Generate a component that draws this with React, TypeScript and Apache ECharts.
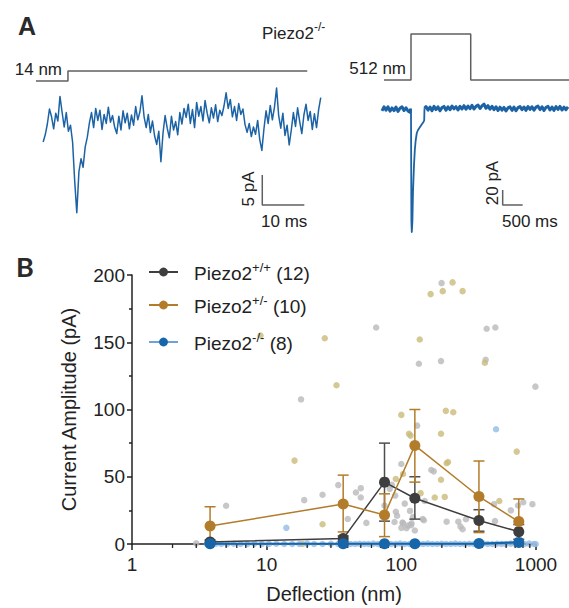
import React, { useEffect, useRef } from 'react';
import * as echarts from 'echarts';

// ---------- Panel A : example traces (Piezo2-/-) ----------
const LEFT_TRACE_START_MS = 1.7;
const LEFT_TRACE_STEP_MS = 0.5;
const leftTracePA = [
  -4.0, -2.8, -1.0, 1.5, 0.2, -1.8, 0.8, -0.5, 3.6, 1.0,
  -1.5, 0.9, -2.2, -1.2, -4.0, -10.5, -15.8, -9.0, -6.8, -8.2,
  -4.8, -3.2, -0.8, 0.9, -1.6, 1.6, -0.4, 1.3, -1.9, 0.6,
  -0.9, 1.8, -0.7, 0.4, -1.5, -2.6, 0.3, -2.0, 1.2, -0.8,
  0.8, -1.8, 0.5, -1.2, 1.9, -0.3, 1.0, 3.7, 0.2, -1.6,
  0.6, -2.4, -0.5, -3.0, -4.4, -2.2, -7.3, -2.5, 0.4, -1.7,
  -3.3, 0.3, -2.0, -0.6, -2.8, 0.9, -1.0, 1.6, 0.1, 2.3,
  -0.9, 1.4, -1.6, 2.6, 0.3, 1.9, -0.5, 2.9, 0.8, -0.8,
  1.7, 0.0, 2.2, -0.6, 1.3, 0.4, 2.0, 4.2, 1.6, 3.1,
  0.2, 1.9, -0.4, 2.4, 0.6, 1.5, -1.1, -2.4, -0.9, -3.1,
  -1.5, -2.7, -0.4, -3.6, -5.4, -1.8, 1.2, -0.9, 2.1, -0.3,
  1.8, 5.0, 0.4, -1.7, 0.8, -2.9, -1.2, -4.5, -2.0, 0.9,
  -1.4, 1.7, -0.6, -2.6, 0.5, 2.3, -0.4, 1.1, -1.9, 0.7,
  -1.6, 1.4, 3.4,
];
const leftStimulusMs = [0, 7.6, 7.6, 64.5];
const leftStimulusLevel = [0, 0, 1, 1];
const leftScaleBar = { t0: 53.8, v0: -14.5, dt: 10, dv: 5 };

const RIGHT_PRE_START_MS = 0;
const RIGHT_STEP_MS = 50;
const rightPrePA = [-2.5, 2.8, -1.5, 3.0, -3.0, 1.4, -2.2, 2.6, -3.2, 1.0, 2.9, -2.0, 1.6, -2.6, -4.5];
const rightDipMs = [715, 725, 735, 745, 760, 775, 800, 820, 842, 870, 900, 950, 1000, 1040, 1055, 1062];
const rightDipPA = [0.5, -2, -150, -164, -150, -110, -75, -55, -42, -32, -28, -24, -20, -17, -15, 1];
const RIGHT_POST_START_MS = 1100;
const rightPostPA = [
  3.2, -1.5, 2.6, -2.2, 3.5, -0.8, 2.9, -2.4, 1.8, 3.4,
  -1.6, 2.8, -1.0, 4.0, 0.2, 3.1, -1.3, 3.6, 0.0, 4.4,
  -0.2, 3.9, 0.4, 4.8, 0.0, 3.5, 5.2, 0.6, 4.2, 6.6,
  1.0, 4.5, -0.2, 3.6, -0.9, 2.9, -2.0, 2.4, -1.6, 2.1,
  -2.6, 1.5, 2.8, -1.8, 2.5, -2.3, 1.8, 3.2, -0.9, 2.7,
  -1.9, 3.3, -0.6, 3.0, -1.6, 2.4, 3.8, -0.8, 2.9, -2.0,
  2.3, 3.5, -1.2, 2.6, -1.8, 3.1, -0.6, 3.4, -1.4, 2.5,
  -1.0, 2.8,
];
const rightStimulusMs = [50, 725, 725, 2218, 2218, 4675];
const rightStimulusLevel = [0, 0, 1, 1, 0, 0];
const rightScaleBar = { t0: 3017, v0: -128, dt: 500, dv: 20 };

// ---------- Panel B : current amplitude vs deflection ----------
const deflectionNm = [3.8, 37, 75, 126, 377, 745];
const wtMean = [1.5, 4, 46, 34, 17.5, 9.2];
const wtUpper = [3, 6, 75, 50, 25.5, 14.5];
const wtLower = [0, 2, 17, 18.5, 9.5, 3.5];
const hetMean = [13.4, 29.7, 21.6, 73.3, 35.3, 16.7];
const hetUpper = [27.7, 51.2, 37.3, 100, 61.7, 33.5];
const hetLower = [0, 9, 5.5, 46, 8.5, 0];
const koMean = [0.2, 0.2, 0.2, 0.2, 0.3, 1.2];

const wtDotX = [3.0, 5.0, 18, 19, 26, 34, 40, 46, 50, 50, 55, 65, 75, 82, 85, 90, 91, 93, 100, 102, 106, 109, 112, 118, 122, 126, 131, 135, 144, 147, 149, 167, 174, 197, 199, 217, 265, 275, 285, 302, 423, 430, 488, 496, 499, 650, 736, 804, 940, 990, 89, 103, 100, 116, 119];
const wtDotY = [0.5, 28.4, 107.5, 32.6, 36.6, 43.8, 18.6, 38.3, 41.5, 34.6, 15.7, 161, 28.6, 41, 44, 36, 24, 21, 59.5, 16, 30, 11.7, 13.7, 14, 20, 10, 88, 134, 18.6, 17.7, 32, 55, 54, 136, 194, 16.6, 16.6, 13, 11, 18.4, 137, 160, 29.6, 17, 161, 25, 28.6, 31, 29.6, 117, 16.4, 15.4, 12, 24.6, 15.4];
const hetDotX = [3.8, 9.0, 16.1, 18.5, 26, 27, 33, 91, 100, 103, 114, 117, 137, 139, 165, 177, 197, 197, 203, 210, 214, 217, 222, 240, 243, 285, 417, 534, 719];
const hetDotY = [0, 155, 62, 0, 14.7, 153, 118, 48.3, 96, 52, 82, 80.6, 152, 37.8, 185.8, 34.6, 82, 47.8, 188, 35, 99, 60, 61, 194.5, 98, 188, 134.8, 32, 68.7];
const koDotX = [14, 505, 3.6, 3.9, 4.2, 4.6, 5.1, 5.7, 6.4, 7.2, 8.1, 9.2, 10.4, 11.8, 13.5, 15.5, 17.5, 20, 22.5, 26, 30, 34, 36.5, 39, 42, 45.5, 49, 53, 57, 62, 67, 72, 78, 84, 91, 98, 106, 115, 124, 134, 145, 157, 170, 184, 199, 215, 233, 252, 273, 295, 320, 346, 375, 405, 438, 474, 513, 555, 600, 650, 703, 760, 822, 889, 961, 995];
const koDotY = [12, 85.3, 0, 0, 0.3, 0, 0, 0.2, 0, 0, 0.3, 0, 0, 0.2, 0, 0, 0, 0.3, 0, 0, 0.2, 0, 0, 0.4, 0, 0, 0.2, 0, 0, 0.3, 0, 0, 0.2, 0, 0, 0.4, 0, 0, 0.2, 0, 0, 0.3, 0, 0, 0.2, 0, 0, 0.3, 0, 0, 0.2, 0, 0, 0.4, 0, 0, 0.2, 0, 0, 0.3, 0, 0.5, 0, 0.3, 0, 0];
const minorTickNm = [2, 3, 4, 5, 6, 7, 8, 9, 20, 30, 40, 50, 60, 70, 80, 90, 200, 300, 400, 500, 600, 700, 800, 900];

const seriesNames = ['Piezo2+/+ (12)', 'Piezo2+/- (10)', 'Piezo2-/- (8)'];
const seriesSup = ['+/+', '+/-', '-/-'];
const seriesN = [' (12)', ' (10)', ' (8)'];

const FONT = '"Liberation Sans", Arial, sans-serif';
const TXT = '#222222';
const WT_COLOR = '#3e3e3e';
const HET_COLOR = '#b27c2b';
const KO_COLOR = '#1766aa';
const TRACE_COLOR = '#1c63a6';
const STIM_COLOR = '#606060';

function errorBarSeries(name: string, color: string, upper: number[], lower: number[]) {
  return {
    name,
    type: 'custom',
    xAxisIndex: 4,
    yAxisIndex: 4,
    z: 3,
    silent: true,
    encode: { x: 0, y: [1, 2] },
    data: deflectionNm.map((x, i) => [x, lower[i], upper[i]]),
    renderItem: (_params: any, api: any) => {
      const x = api.value(0);
      const lo = api.coord([x, api.value(1)]);
      const hi = api.coord([x, api.value(2)]);
      const w = 5.5;
      const style = { stroke: color, lineWidth: 1.5, fill: 'none' };
      return {
        type: 'group',
        children: [
          { type: 'line', shape: { x1: hi[0], y1: hi[1], x2: lo[0], y2: lo[1] }, style },
          { type: 'line', shape: { x1: hi[0] - w, y1: hi[1], x2: hi[0] + w, y2: hi[1] }, style },
          { type: 'line', shape: { x1: lo[0] - w, y1: lo[1], x2: lo[0] + w, y2: lo[1] }, style },
        ],
      };
    },
  };
}

function scaleBarData(b: { t0: number; v0: number; dt: number; dv: number }) {
  return [
    [b.t0, b.v0 + b.dv],
    [b.t0, b.v0],
    [b.t0 + b.dt, b.v0],
  ];
}

function traceLine(xi: number, data: number[][], width: number) {
  return {
    type: 'line', xAxisIndex: xi, yAxisIndex: xi, silent: true, symbol: 'none', clip: false,
    lineStyle: { color: TRACE_COLOR, width, join: 'round' },
    data,
  };
}

function buildOption() {
  const leftTrace = leftTracePA.map((v, i) => [LEFT_TRACE_START_MS + i * LEFT_TRACE_STEP_MS, v]);
  const dip = rightDipMs.map((t, i) => [t, rightDipPA[i]]);
  const rightPre = [...rightPrePA.map((v, i) => [RIGHT_PRE_START_MS + i * RIGHT_STEP_MS, v]), dip[0]];
  const rightPost = [dip[dip.length - 1], ...rightPostPA.map((v, i) => [RIGHT_POST_START_MS + i * RIGHT_STEP_MS, v])];

  const hiddenX = (gridIndex: number, min: number, max: number) => ({ type: 'value', gridIndex, min, max, show: false });
  const hiddenY = (gridIndex: number, min: number, max: number) => ({ type: 'value', gridIndex, min, max, show: false });

  const legendRich = {
    n: { fontSize: 19, fontFamily: FONT, color: TXT, lineHeight: 22, verticalAlign: 'bottom' },
    s: { fontSize: 13, fontFamily: FONT, color: TXT, lineHeight: 22, verticalAlign: 'top' },
  };
  const legendTops = [261, 294, 331];

  return {
    animation: false,
    textStyle: { fontFamily: FONT },
    grid: [
      { left: 36, width: 286, top: 71, height: 10, outerBoundsMode: 'none' },
      { left: 36, width: 286, top: 82, height: 150, outerBoundsMode: 'none' },
      { left: 382, width: 187, top: 34, height: 46, outerBoundsMode: 'none' },
      { left: 382, width: 187, top: 94, height: 141, outerBoundsMode: 'none' },
      { left: 132, width: 404, top: 275, height: 269, outerBoundsMode: 'none' },
    ],
    xAxis: [
      hiddenX(0, 0, 68),
      hiddenX(1, 0, 68),
      hiddenX(2, 0, 4675),
      hiddenX(3, 0, 4675),
      {
        type: 'log',
        logBase: 10,
        gridIndex: 4,
        min: 1,
        max: 1000,
        splitNumber: 3,
        axisLine: { show: true, onZero: false, lineStyle: { color: TXT, width: 1.5 } },
        axisTick: { show: true, length: 6, lineStyle: { color: TXT, width: 1.5 } },
        minorTick: { show: false },
        splitLine: { show: false },
        axisLabel: { fontSize: 19, color: TXT, margin: 11, fontFamily: FONT, formatter: (v: number) => String(Math.round(v)) },
        name: 'Deflection (nm)',
        nameLocation: 'middle',
        nameGap: 40,
        nameTextStyle: { fontSize: 20, color: TXT, fontFamily: FONT },
      },
    ],
    yAxis: [
      hiddenY(0, 0, 1),
      hiddenY(1, -19, 6),
      hiddenY(2, 0, 1),
      hiddenY(3, -168, 20),
      {
        type: 'value',
        gridIndex: 4,
        min: 0,
        max: 200,
        interval: 50,
        axisLine: { show: true, lineStyle: { color: TXT, width: 1.5 } },
        axisTick: { show: true, length: 5, lineStyle: { color: TXT, width: 1.5 } },
        minorTick: { show: true, splitNumber: 2, length: 3, lineStyle: { color: TXT, width: 1.5 } },
        splitLine: { show: false },
        minorSplitLine: { show: false },
        axisLabel: { fontSize: 19, color: TXT, margin: 7, fontFamily: FONT },
        name: 'Current Amplitude (pA)',
        nameLocation: 'middle',
        nameGap: 53,
        nameRotate: 90,
        nameTextStyle: { fontSize: 20, color: TXT, fontFamily: FONT },
      },
    ],
    legend: seriesNames.map((name, i) => ({
      data: [i === 2 ? { name, lineStyle: { color: '#6fa2da', width: 2 } } : { name }],
      left: 148,
      top: legendTops[i],
      padding: 0,
      itemWidth: 29,
      itemHeight: 11,
      selectedMode: false,
      textStyle: { padding: [0, 0, 0, 11], rich: legendRich },
      formatter: () => `{n|Piezo2}{s|${seriesSup[i]}}{n|${seriesN[i]}}`,
    })),
    graphic: [
      { type: 'text', x: 27, y: 26, style: { text: 'A', align: 'center', verticalAlign: 'middle', fontSize: 25, fontWeight: 'bold', fontFamily: FONT, fill: '#2a2a2a' } },
      { type: 'text', x: 25, y: 266, style: { text: 'B', align: 'center', verticalAlign: 'middle', fontSize: 27, fontWeight: 'bold', fontFamily: 'Lato, "Liberation Sans", sans-serif', fill: '#2a2a2a' } },
      {
        type: 'text', x: 262, y: 31,
        style: {
          text: '{a|Piezo2}{s|-/-}', verticalAlign: 'middle', align: 'left',
          rich: {
            a: { fontSize: 17, fontFamily: FONT, fill: TXT, color: TXT, lineHeight: 21, verticalAlign: 'bottom' },
            s: { fontSize: 12, fontFamily: FONT, fill: TXT, color: TXT, lineHeight: 21, verticalAlign: 'top' },
          },
        },
      },
      { type: 'text', x: 62, y: 69, style: { text: '14 nm', align: 'right', verticalAlign: 'middle', fontSize: 17, fontFamily: FONT, fill: TXT } },
      { type: 'text', x: 406, y: 68, style: { text: '512 nm', align: 'right', verticalAlign: 'middle', fontSize: 17, fontFamily: FONT, fill: TXT } },
      { type: 'text', x: 248, y: 189, rotation: Math.PI / 2, style: { text: '5 pA', align: 'center', verticalAlign: 'middle', fontSize: 17, fontFamily: FONT, fill: TXT } },
      { type: 'text', x: 261, y: 221, style: { text: '10 ms', align: 'left', verticalAlign: 'middle', fontSize: 17, fontFamily: FONT, fill: TXT } },
      { type: 'text', x: 492, y: 183, rotation: Math.PI / 2, style: { text: '20 pA', align: 'center', verticalAlign: 'middle', fontSize: 17, fontFamily: FONT, fill: TXT } },
      { type: 'text', x: 502, y: 221, style: { text: '500 ms', align: 'left', verticalAlign: 'middle', fontSize: 17, fontFamily: FONT, fill: TXT } },
    ],
    series: [
      {
        type: 'line', xAxisIndex: 0, yAxisIndex: 0, silent: true, symbol: 'none', clip: false,
        lineStyle: { color: STIM_COLOR, width: 1.5 },
        data: leftStimulusMs.map((t, i) => [t, leftStimulusLevel[i]]),
      },
      traceLine(1, leftTrace, 1.5),
      {
        type: 'line', xAxisIndex: 1, yAxisIndex: 1, silent: true, symbol: 'none', clip: false,
        lineStyle: { color: STIM_COLOR, width: 1.5 },
        data: scaleBarData(leftScaleBar),
      },
      {
        type: 'line', xAxisIndex: 2, yAxisIndex: 2, silent: true, symbol: 'none', clip: false,
        lineStyle: { color: STIM_COLOR, width: 1.5 },
        data: rightStimulusMs.map((t, i) => [t, rightStimulusLevel[i]]),
      },
      traceLine(3, rightPre, 3),
      traceLine(3, dip, 1.8),
      traceLine(3, rightPost, 3),
      {
        type: 'line', xAxisIndex: 3, yAxisIndex: 3, silent: true, symbol: 'none', clip: false,
        lineStyle: { color: STIM_COLOR, width: 1.5 },
        data: scaleBarData(rightScaleBar),
      },
      // individual cells
      {
        type: 'scatter', xAxisIndex: 4, yAxisIndex: 4, silent: true, z: 1, symbolSize: 6.5,
        itemStyle: { color: '#b9b9bc' },
        data: wtDotX.map((x, i) => [x, wtDotY[i]]),
      },
      {
        type: 'scatter', xAxisIndex: 4, yAxisIndex: 4, silent: true, z: 1, symbolSize: 6.5,
        itemStyle: { color: '#c9ba7a' },
        data: hetDotX.map((x, i) => [x, hetDotY[i]]),
      },
      {
        type: 'scatter', xAxisIndex: 4, yAxisIndex: 4, silent: true, z: 1, symbolSize: 6.5,
        itemStyle: { color: '#94bbe6' },
        data: koDotX.map((x, i) => [x, koDotY[i]]),
      },
      // minor log ticks
      {
        type: 'custom', xAxisIndex: 4, yAxisIndex: 4, silent: true, z: 2,
        encode: { x: 0, y: 1 },
        data: minorTickNm.map((v) => [v, 0]),
        renderItem: (_p: any, api: any) => {
          const p = api.coord([api.value(0), 0]);
          return { type: 'line', shape: { x1: p[0], y1: p[1], x2: p[0], y2: p[1] + 4 }, style: { stroke: TXT, lineWidth: 1.3 } };
        },
      },
      errorBarSeries('wtErr', '#4e4e4e', wtUpper, wtLower),
      errorBarSeries('hetErr', HET_COLOR, hetUpper, hetLower),
      {
        name: seriesNames[0], type: 'line', xAxisIndex: 4, yAxisIndex: 4, z: 4,
        symbol: 'circle', symbolSize: 11, lineStyle: { color: WT_COLOR, width: 1.5 }, itemStyle: { color: WT_COLOR },
        data: deflectionNm.map((x, i) => [x, wtMean[i]]),
      },
      {
        name: seriesNames[1], type: 'line', xAxisIndex: 4, yAxisIndex: 4, z: 5,
        symbol: 'circle', symbolSize: 11, lineStyle: { color: HET_COLOR, width: 1.5 }, itemStyle: { color: HET_COLOR },
        data: deflectionNm.map((x, i) => [x, hetMean[i]]),
      },
      {
        name: seriesNames[2], type: 'line', xAxisIndex: 4, yAxisIndex: 4, z: 6,
        symbol: 'circle', symbolSize: 11, lineStyle: { color: KO_COLOR, width: 2.2 }, itemStyle: { color: KO_COLOR },
        data: deflectionNm.map((x, i) => [x, koMean[i]]),
      },
    ],
  };
}

export default function App() {
  const ref = useRef<HTMLDivElement>(null);
  useEffect(() => {
    document.body.style.margin = '0';
    if (!ref.current) return;
    const chart = echarts.init(ref.current, null, { renderer: 'svg' });
    chart.setOption(buildOption() as any);
    return () => chart.dispose();
  }, []);
  return <div ref={ref} style={{ width: 569, height: 608, background: '#ffffff' }} />;
}
